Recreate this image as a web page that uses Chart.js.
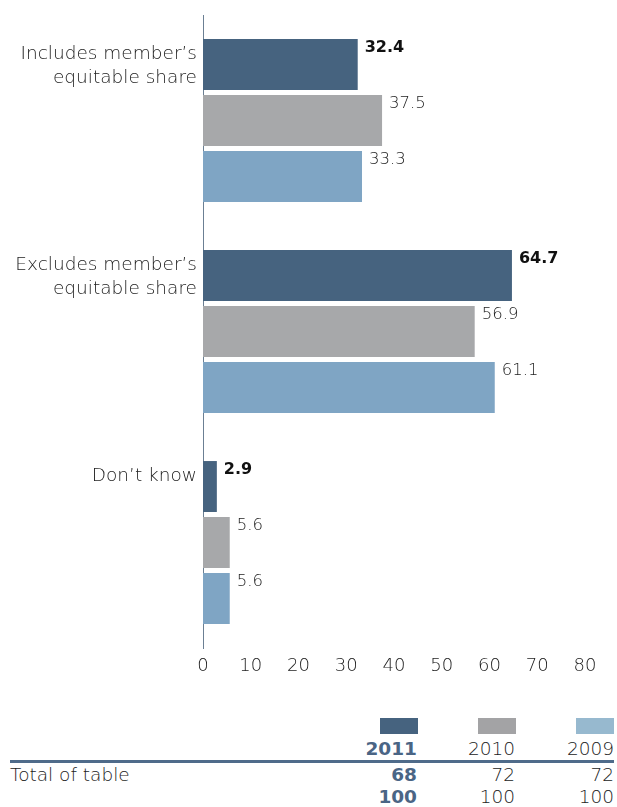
<!DOCTYPE html>
<html>
<head>
<meta charset="utf-8">
<script src="https://cdn.jsdelivr.net/npm/chart.js@4/dist/chart.umd.min.js"></script>
<style>
  html, body { margin: 0; padding: 0; background: #fff; }
  body { width: 617px; height: 807px; position: relative; overflow: hidden;
         font-family: "DejaVu Sans", sans-serif; font-weight: 200; color: #222; }
  #wrap { position: absolute; left: 0; top: 0; width: 617px; height: 690px; }
  .sw { position: absolute; top: 718px; width: 38px; height: 16px; }
  .t { position: absolute; font-size: 18.5px; line-height: 20px; white-space: nowrap; }
  .r { text-align: right; width: 80px; }
  .b { font-weight: 700; color: #4a6585; }
  #rule { position: absolute; left: 10px; top: 760px; width: 604px; height: 3px; background: #4f6b8a; }
</style>
</head>
<body>
<div id="wrap"><canvas id="c"></canvas></div>
<div id="table"></div>
<script>
const categories = [["Includes member\u2019s", "equitable share"], ["Excludes member\u2019s", "equitable share"], ["Don\u2019t know", ""]];
const years = ["2011", "2010", "2009"];
const values2011 = [32.4, 64.7, 2.9];
const values2010 = [37.5, 56.9, 5.6];
const values2009 = [33.3, 61.1, 5.6];
const xTicks = [0, 10, 20, 30, 40, 50, 60, 70, 80];
const totals = [68, 72, 72];
const percentTotals = [100, 100, 100];

const barColors = ["#46637f", "#a7a8aa", "#7fa5c4"];
const legendColors = ["#46637f", "#a3a3a5", "#97b9cf"];
const FONT = "'DejaVu Sans', sans-serif";

const valueLabels = {
  id: "valueLabels",
  afterDatasetsDraw(chart) {
    const ctx = chart.ctx;
    ctx.save();
    chart.data.datasets.forEach((ds, di) => {
      const meta = chart.getDatasetMeta(di);
      meta.data.forEach((bar, i) => {
        const v = ds.data[i];
        ctx.font = (di === 0 ? "700 16px " : "200 16.5px ") + FONT;
        ctx.fillStyle = di === 0 ? "#111" : "#222";
        ctx.textAlign = "left";
        ctx.textBaseline = "middle";
        const top = bar.y - bar.height / 2;
        ctx.fillText(v.toFixed(1), bar.x + 7, top + 9);
      });
    });
    ctx.restore();
  }
};

new Chart(document.getElementById("c"), {
  type: "bar",
  data: {
    labels: categories,
    datasets: [
      { label: years[0], data: values2011, backgroundColor: barColors[0] },
      { label: years[1], data: values2010, backgroundColor: barColors[1] },
      { label: years[2], data: values2009, backgroundColor: barColors[2] }
    ]
  },
  options: {
    indexAxis: "y",
    responsive: true,
    maintainAspectRatio: false,
    animation: false,
    categoryPercentage: 0.796,
    barPercentage: 0.91,
    layout: { padding: { top: 15, right: 32, left: 0, bottom: 0 } },
    plugins: { legend: { display: false }, tooltip: { enabled: false } },
    scales: {
      x: {
        min: 0, max: 80,
        afterBuildTicks(scale) { scale.ticks = xTicks.map(v => ({ value: v })); },
        afterFit(scale) { scale.height = 42; scale.paddingLeft = 0; scale.paddingRight = 0; },
        grid: { display: false, drawTicks: false },
        border: { display: false },
        ticks: { padding: 8, color: "#222", font: { family: FONT, size: 18, weight: "200" } }
      },
      y: {
        afterFit(scale) { scale.width = 203; scale.paddingTop = 0; scale.paddingBottom = 0; },
        grid: { display: false, drawTicks: false },
        border: { display: true, color: "#6b7f93", width: 1 },
        ticks: {
          padding: 6,
          labelOffset: -54,
          color: "#222",
          font: { family: FONT, size: 18.5, weight: "200", lineHeight: 1.3 }
        }
      }
    }
  },
  plugins: [valueLabels]
});

// Bottom legend / totals table
const tbl = document.getElementById("table");
const colRight = [417, 515, 614];
const swLeft = [380, 478, 576];
let html = "";
years.forEach((y, i) => {
  html += `<div class="sw" style="left:${swLeft[i]}px;background:${legendColors[i]}"></div>`;
  html += `<div class="t r${i === 0 ? " b" : ""}" style="left:${colRight[i] - 80}px;top:739px">${y}</div>`;
  html += `<div class="t r${i === 0 ? " b" : ""}" style="left:${colRight[i] - 80}px;top:765px">${totals[i]}</div>`;
  html += `<div class="t r${i === 0 ? " b" : ""}" style="left:${colRight[i] - 80}px;top:787px">${percentTotals[i]}</div>`;
});
html += `<div id="rule"></div>`;
html += `<div class="t" style="left:10px;top:765px">Total of table</div>`;
tbl.innerHTML = html;
</script>
</body>
</html>
